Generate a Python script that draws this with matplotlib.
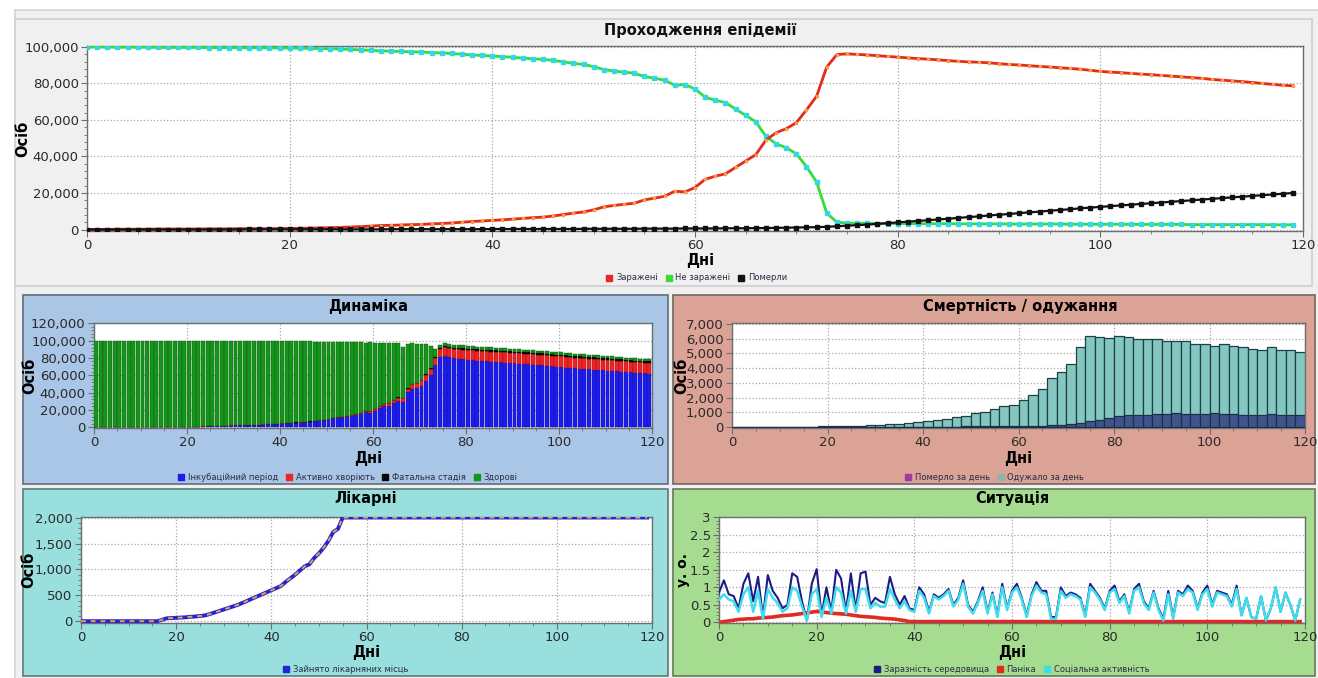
import matplotlib
matplotlib.use('Agg')
import numpy as np
import matplotlib.pyplot as plt
from matplotlib.patches import Rectangle
from matplotlib.lines import Line2D
from matplotlib.ticker import MultipleLocator, FuncFormatter

# ---- epidemic run, daily values (thousands of people) ----
days = np.arange(120)

infected_k = [
    0.1, 0.1, 0.1, 0.2, 0.2, 0.2, 0.2, 0.3, 0.3, 0.3,
    0.3, 0.3, 0.4, 0.4, 0.4, 0.5, 0.5, 0.5, 0.5, 0.6,
    0.6, 0.7, 0.8, 0.9, 1.0, 1.2, 1.4, 1.6, 1.9, 2.2,
    2.3, 2.5, 2.7, 2.8, 3.1, 3.3, 3.6, 4.0, 4.4, 4.7,
    5.0, 5.3, 5.7, 6.1, 6.5, 6.8, 7.4, 8.2, 9.0, 9.6,
    10.8, 12.4, 13.2, 13.8, 14.4, 16.2, 17.2, 18.2, 21.0, 20.6,
    23.0, 27.5, 29.2, 30.5, 34.0, 37.5, 41.0, 49.0, 53.0, 55.2,
    58.5, 65.5, 73.0, 89.0, 95.8, 96.2, 95.9, 95.6, 95.2, 94.8,
    94.4, 94.0, 93.6, 93.3, 92.9, 92.5, 92.1, 91.8, 91.6, 91.3,
    90.8, 90.4, 90.1, 89.7, 89.3, 89.0, 88.6, 88.2, 87.8, 87.2,
    86.6, 86.2, 85.9, 85.5, 85.1, 84.8, 84.4, 84.0, 83.6, 83.2,
    82.8, 82.2, 81.8, 81.4, 81.0, 80.5, 80.0, 79.5, 79.0, 78.7,
]

uninfected_k = [
    99.9, 99.9, 99.9, 99.8, 99.8, 99.8, 99.8, 99.7, 99.7, 99.7,
    99.7, 99.7, 99.6, 99.6, 99.6, 99.5, 99.5, 99.5, 99.5, 99.4,
    99.4, 99.3, 99.2, 99.1, 99.0, 98.8, 98.6, 98.4, 98.1, 97.8,
    97.7, 97.5, 97.3, 97.2, 96.9, 96.7, 96.4, 96.0, 95.6, 95.3,
    95.0, 94.7, 94.3, 93.9, 93.5, 93.2, 92.6, 91.8, 91.0, 90.4,
    89.2, 87.6, 86.8, 86.2, 85.6, 83.8, 82.8, 81.8, 79.0, 79.4,
    77.0, 72.5, 70.8, 69.5, 66.0, 62.5, 59.0, 51.0, 47.0, 44.8,
    41.5, 34.5, 26.0, 9.0, 4.0, 3.5, 3.4, 3.4, 3.3, 3.3,
    3.3, 3.3, 3.2, 3.2, 3.2, 3.2, 3.1, 3.1, 3.1, 3.1,
    3.1, 3.0, 3.0, 3.0, 3.0, 3.0, 3.0, 2.9, 2.9, 2.9,
    2.9, 2.9, 2.9, 2.8, 2.8, 2.8, 2.8, 2.8, 2.8, 2.7,
    2.7, 2.7, 2.7, 2.7, 2.7, 2.7, 2.7, 2.6, 2.6, 2.6,
]

dead_k = [
    0.0, 0.0, 0.0, 0.0, 0.0, 0.0, 0.0, 0.0, 0.0, 0.0,
    0.0, 0.0, 0.0, 0.0, 0.0, 0.0, 0.1, 0.1, 0.1, 0.1,
    0.1, 0.1, 0.1, 0.1, 0.1, 0.1, 0.1, 0.1, 0.1, 0.1,
    0.2, 0.2, 0.2, 0.2, 0.2, 0.2, 0.2, 0.2, 0.2, 0.2,
    0.3, 0.3, 0.3, 0.3, 0.3, 0.3, 0.3, 0.3, 0.3, 0.4,
    0.4, 0.4, 0.4, 0.4, 0.4, 0.5, 0.5, 0.5, 0.5, 0.6,
    0.6, 0.6, 0.6, 0.7, 0.7, 0.7, 0.8, 0.8, 0.9, 1.0,
    1.1, 1.2, 1.3, 1.5, 1.8, 2.1, 2.4, 2.7, 3.1, 3.5,
    3.9, 4.3, 4.7, 5.1, 5.5, 5.9, 6.4, 6.8, 7.2, 7.7,
    8.1, 8.5, 9.0, 9.4, 9.8, 10.3, 10.7, 11.1, 11.6, 12.0,
    12.4, 12.8, 13.2, 13.6, 14.0, 14.4, 14.8, 15.2, 15.6, 16.0,
    16.4, 16.8, 17.2, 17.6, 18.0, 18.4, 18.8, 19.2, 19.6, 20.0,
]

# stages of the infected population (thousands)
incubation_k = [
    0.1, 0.1, 0.1, 0.2, 0.2, 0.2, 0.2, 0.3, 0.3, 0.3,
    0.3, 0.3, 0.3, 0.3, 0.3, 0.4, 0.4, 0.4, 0.4, 0.5,
    0.5, 0.6, 0.7, 0.7, 0.8, 1.0, 1.1, 1.3, 1.5, 1.8,
    1.9, 2.0, 2.2, 2.3, 2.5, 2.7, 2.9, 3.2, 3.5, 3.8,
    4.0, 4.3, 4.6, 4.9, 5.2, 5.5, 6.0, 6.6, 7.3, 7.8,
    8.8, 10.1, 10.7, 11.2, 11.7, 13.2, 14.0, 14.8, 17.1, 16.8,
    18.8, 22.5, 23.9, 25.0, 27.9, 30.8, 29.5, 40.2, 44.5, 45.3,
    48.0, 53.7, 60.0, 72.2, 81.0, 82.5, 81.0, 80.0, 79.2, 78.5,
    77.8, 77.4, 77.0, 76.6, 76.2, 75.8, 75.4, 75.0, 74.6, 74.2,
    73.8, 73.4, 73.0, 72.6, 72.2, 71.8, 71.4, 71.0, 70.5, 70.0,
    69.5, 69.0, 68.6, 68.2, 67.8, 67.4, 67.0, 66.6, 66.2, 65.8,
    65.4, 65.0, 64.6, 64.2, 63.8, 63.4, 63.0, 62.6, 62.3, 62.0,
]

active_k = [
    0.0, 0.0, 0.0, 0.0, 0.0, 0.0, 0.0, 0.0, 0.0, 0.0,
    0.0, 0.0, 0.0, 0.0, 0.0, 0.0, 0.0, 0.0, 0.0, 0.0,
    0.0, 0.0, 0.0, 0.1, 0.1, 0.1, 0.1, 0.1, 0.1, 0.1,
    0.1, 0.2, 0.2, 0.2, 0.2, 0.2, 0.3, 0.3, 0.3, 0.3,
    0.3, 0.3, 0.4, 0.4, 0.4, 0.4, 0.5, 0.5, 0.6, 0.6,
    0.7, 0.8, 0.9, 1.0, 1.0, 1.2, 1.3, 1.4, 1.6, 1.7,
    1.9, 2.1, 2.4, 2.7, 3.0, 3.4, 3.8, 4.3, 4.9, 5.5,
    6.1, 6.8, 7.5, 8.2, 9.0, 9.8, 10.4, 10.8, 11.1, 11.3,
    11.4, 11.5, 11.6, 11.6, 11.7, 11.7, 11.8, 11.8, 11.9, 11.9,
    12.0, 12.0, 12.0, 12.1, 12.1, 12.1, 12.2, 12.2, 12.2, 12.2,
    12.3, 12.3, 12.3, 12.3, 12.3, 12.3, 12.3, 12.3, 12.3, 12.3,
    12.3, 12.3, 12.3, 12.3, 12.2, 12.2, 12.2, 12.2, 12.2, 12.2,
]

fatal_k = [
    0.0, 0.0, 0.0, 0.0, 0.0, 0.0, 0.0, 0.0, 0.0, 0.0,
    0.0, 0.0, 0.0, 0.0, 0.0, 0.0, 0.0, 0.0, 0.0, 0.0,
    0.0, 0.0, 0.0, 0.0, 0.0, 0.0, 0.0, 0.0, 0.0, 0.0,
    0.1, 0.1, 0.1, 0.1, 0.1, 0.1, 0.1, 0.1, 0.1, 0.1,
    0.1, 0.1, 0.1, 0.1, 0.1, 0.1, 0.1, 0.1, 0.1, 0.1,
    0.1, 0.1, 0.1, 0.1, 0.1, 0.1, 0.1, 0.1, 0.1, 0.1,
    0.2, 0.2, 0.3, 0.3, 0.3, 0.4, 0.4, 0.5, 0.5, 0.6,
    0.6, 0.7, 0.8, 0.9, 1.0, 1.1, 1.2, 1.3, 1.4, 1.5,
    1.5, 1.5, 1.5, 1.5, 1.6, 1.6, 1.6, 1.6, 1.6, 1.6,
    1.6, 1.6, 1.7, 1.7, 1.7, 1.7, 1.7, 1.7, 1.7, 1.7,
    1.7, 1.7, 1.7, 1.7, 1.8, 1.8, 1.8, 1.8, 1.8, 1.8,
    1.8, 1.8, 1.8, 1.8, 1.8, 1.8, 1.8, 1.8, 1.8, 1.8,
]

healthy_k = uninfected_k

# deaths / recoveries per two-day bin
bin_days = np.arange(0, 120, 2)
recovered_per_day = [
    0, 0, 0, 0, 0, 0, 0, 0, 0,
    0, 0, 0, 0, 0,
    130, 170, 200, 210, 280, 350, 420, 480, 560, 690,
    760, 950, 1030, 1250, 1400, 1500, 1850, 2200, 2550, 3300,
    3700, 4250, 5400, 6150, 6100, 6050, 6150, 6100, 6000, 6000,
    6000, 5800, 5800, 5800, 5600, 5600, 5500, 5650, 5500, 5450,
    5300, 5250, 5400, 5200, 5200, 5100,
]
died_per_day = [
    0, 0, 0, 0, 0, 0, 0, 0, 0,
    50, 50, 50, 50, 50,
    20, 20, 25, 25, 30, 30, 35, 35, 40, 40,
    45, 45, 50, 50, 55, 60, 70, 80, 100, 120,
    150, 200, 280, 420, 500, 620, 720, 830, 840, 850,
    880, 900, 950, 880, 900, 900, 950, 900, 870, 850,
    850, 850, 860, 850, 850, 820,
]

# occupied hospital beds
hospital_beds = [
    5, 5, 5, 5, 5, 5, 5, 5, 5, 5,
    5, 5, 5, 5, 5, 5, 5, 30, 60, 65,
    70, 75, 80, 90, 95, 105, 115, 140, 170, 200,
    230, 260, 290, 320, 360, 400, 440, 480, 520, 560,
    600, 640, 680, 760, 830, 900, 980, 1060, 1100, 1220,
    1310, 1420, 1550, 1720, 1780, 2000, 2000, 2000, 2000, 2000,
    2000, 2000, 2000, 2000, 2000, 2000, 2000, 2000, 2000, 2000,
    2000, 2000, 2000, 2000, 2000, 2000, 2000, 2000, 2000, 2000,
    2000, 2000, 2000, 2000, 2000, 2000, 2000, 2000, 2000, 2000,
    2000, 2000, 2000, 2000, 2000, 2000, 2000, 2000, 2000, 2000,
    2000, 2000, 2000, 2000, 2000, 2000, 2000, 2000, 2000, 2000,
    2000, 2000, 2000, 2000, 2000, 2000, 2000, 2000, 2000, 2000,
]

# situation indicators (conventional units)
contagion = [
    0.85, 1.20, 0.80, 0.75, 0.40, 1.10, 1.40, 0.60, 1.30, 0.15,
    1.35, 0.90, 0.70, 0.40, 0.50, 1.40, 1.30, 0.60, 0.05, 1.10,
    1.52, 0.20, 1.00, 0.30, 1.50, 1.25, 0.30, 1.40, 0.35, 1.40,
    1.45, 0.50, 0.70, 0.60, 0.55, 1.30, 0.80, 0.50, 0.75, 0.40,
    0.35, 1.00, 0.80, 0.30, 0.80, 0.70, 0.80, 0.95, 0.50, 0.70,
    1.20, 0.50, 0.30, 0.60, 1.00, 0.30, 0.85, 0.20, 1.10, 0.40,
    0.90, 1.10, 0.70, 0.20, 0.80, 1.15, 0.90, 0.90, 0.15, 0.15,
    1.00, 0.75, 0.85, 0.80, 0.70, 0.20, 1.10, 0.90, 0.70, 0.40,
    0.90, 1.05, 0.60, 0.80, 0.30, 0.95, 1.10, 0.60, 0.40, 0.90,
    0.40, 0.10, 0.90, 0.15, 0.90, 0.80, 1.05, 0.90, 0.40, 0.85,
    1.05, 0.50, 0.90, 0.85, 0.80, 0.50, 1.05, 0.20, 0.70, 0.15,
    0.10, 0.75, 0.05, 0.40, 1.00, 0.30, 0.85, 0.50, 0.05, 0.65,
]
panic = [
    0.00, 0.02, 0.04, 0.06, 0.08, 0.09, 0.10, 0.10, 0.12, 0.13,
    0.14, 0.15, 0.17, 0.19, 0.20, 0.21, 0.23, 0.25, 0.27, 0.29,
    0.31, 0.30, 0.28, 0.26, 0.25, 0.24, 0.23, 0.21, 0.19, 0.17,
    0.16, 0.15, 0.14, 0.12, 0.11, 0.10, 0.09, 0.07, 0.05, 0.02,
    0.02, 0.02, 0.02, 0.02, 0.02, 0.02, 0.02, 0.02, 0.02, 0.02,
    0.02, 0.02, 0.02, 0.02, 0.02, 0.02, 0.02, 0.02, 0.02, 0.02,
    0.02, 0.02, 0.02, 0.02, 0.02, 0.02, 0.02, 0.02, 0.02, 0.02,
    0.02, 0.02, 0.02, 0.02, 0.02, 0.02, 0.02, 0.02, 0.02, 0.02,
    0.02, 0.02, 0.02, 0.02, 0.02, 0.02, 0.02, 0.02, 0.02, 0.02,
    0.02, 0.02, 0.02, 0.02, 0.02, 0.02, 0.02, 0.02, 0.02, 0.02,
    0.02, 0.02, 0.02, 0.02, 0.02, 0.02, 0.02, 0.02, 0.02, 0.02,
    0.02, 0.02, 0.02, 0.02, 0.02, 0.02, 0.02, 0.02, 0.02, 0.02,
]
social_activity = [
    0.65, 0.80, 0.65, 0.60, 0.30, 0.80, 1.00, 0.30, 0.90, 0.10,
    0.95, 0.70, 0.55, 0.30, 0.40, 1.00, 0.90, 0.45, 0.05, 0.80,
    0.95, 0.15, 0.70, 0.25, 1.00, 0.85, 0.25, 0.90, 0.30, 0.95,
    0.95, 0.40, 0.55, 0.45, 0.45, 0.95, 0.65, 0.40, 0.60, 0.35,
    0.30, 0.90, 0.70, 0.25, 0.75, 0.65, 0.75, 0.90, 0.45, 0.65,
    1.10, 0.45, 0.25, 0.55, 0.90, 0.25, 0.80, 0.15, 1.00, 0.35,
    0.85, 1.00, 0.65, 0.15, 0.75, 1.05, 0.85, 0.80, 0.10, 0.10,
    0.90, 0.70, 0.80, 0.75, 0.65, 0.15, 1.00, 0.85, 0.65, 0.35,
    0.85, 0.95, 0.55, 0.75, 0.25, 0.90, 1.00, 0.55, 0.35, 0.85,
    0.35, 0.05, 0.80, 0.10, 0.85, 0.75, 0.95, 0.85, 0.35, 0.80,
    0.95, 0.45, 0.85, 0.80, 0.75, 0.45, 0.95, 0.20, 0.70, 0.15,
    0.10, 0.75, 0.05, 0.40, 1.00, 0.30, 0.85, 0.50, 0.05, 0.65,
]

# ---- layout helpers (pixel boxes on a 1318x678 canvas) ----
W, H = 1318, 678
TICK_FONT = ['Liberation Sans Narrow', 'DejaVu Sans']
BOLD_FONT = ['DejaVu Sans']


def box(x0, y0, x1, y1):
    return [x0 / W, 1 - y1 / H, (x1 - x0) / W, (y1 - y0) / H]


def panel(fig, x0, y0, x1, y1, face, edge):
    fig.patches.append(Rectangle((x0 / W, 1 - y1 / H), (x1 - x0) / W, (y1 - y0) / H,
                                 transform=fig.transFigure, facecolor=face,
                                 edgecolor=edge, linewidth=1.2, zorder=-10))


def fig_text(fig, x, y, s, **kw):
    fig.text(x / W, 1 - y / H, s, ha='center', va='center', **kw)


def style_axes(ax, xmaj, xmin, ymaj, ymin, yfmt):
    ax.set_facecolor('white')
    ax.xaxis.set_major_locator(MultipleLocator(xmaj))
    ax.xaxis.set_minor_locator(MultipleLocator(xmin))
    ax.yaxis.set_major_locator(MultipleLocator(ymaj))
    if ymin:
        ax.yaxis.set_minor_locator(MultipleLocator(ymin))
    ax.yaxis.set_major_formatter(FuncFormatter(yfmt))
    ax.grid(True, which='major', color='#a8a8a8', linestyle=':', linewidth=0.9)
    ax.set_axisbelow(True)
    for s in ax.spines.values():
        s.set_color('#6e6e6e')
        s.set_linewidth(1.0)
    ax.tick_params(which='major', length=4, width=0.8, color='#6e6e6e',
                   labelsize=9.5, labelcolor='#2a2a2a', pad=2)
    ax.tick_params(which='minor', length=2, width=0.6, color='#6e6e6e')
    for lab in ax.get_xticklabels() + ax.get_yticklabels():
        lab.set_family(TICK_FONT)


def add_legend(fig, x, y, items, ncol=None):
    handles = [Line2D([], [], marker='s', linestyle='', color=c, markersize=4)
               for _, c in items]
    leg = fig.legend(handles, [t for t, _ in items], loc='center',
                     bbox_to_anchor=(x / W, 1 - y / H), ncol=ncol or len(items),
                     frameon=False, fontsize=6, handlelength=0.6,
                     handletextpad=0.5, columnspacing=1.0, borderpad=0)
    for t in leg.get_texts():
        t.set_color('#2c2c44')
    return leg


thousands = lambda v, p: f'{int(round(v)):,}'
plain = lambda v, p: f'{v:g}'

fig = plt.figure(figsize=(W / 100, H / 100), dpi=100)
fig.patch.set_facecolor('white')

# window background and panels
panel(fig, 15, 10, 1330, 690, '#f0f0f0', '#d4d4d4')
panel(fig, 15, 19, 1312, 286, '#f0f0f0', '#cfcfcf')
panel(fig, 23, 295, 668, 484, '#a9c6e6', '#5f6f7a')
panel(fig, 673, 295, 1315, 484, '#dba296', '#6f6660')
panel(fig, 23, 489, 668, 676, '#99dfde', '#5f7a78')
panel(fig, 673, 489, 1315, 676, '#a6dc90', '#637a5c')

# ---- epidemic progression ----
ax = fig.add_axes(box(87, 46, 1303, 231))
style_axes(ax, 20, 5, 20000, 4000, thousands)
ax.set_xlim(0, 120)
ax.set_ylim(-800, 100500)
inf = np.array(infected_k) * 1000
uninf = np.array(uninfected_k) * 1000
dead = np.array(dead_k) * 1000
ax.plot(days, uninf, color='#33dd33', linewidth=2, marker='s', markersize=2.2,
        markerfacecolor='#33d8e8', markeredgecolor='#33d8e8', zorder=3)
ax.plot(days, inf, color='#e42a1e', linewidth=2, marker='s', markersize=1.8,
        markerfacecolor='#f2a040', markeredgecolor='#f2a040', zorder=4)
ax.plot(days, dead, color='#111111', linewidth=1.6, marker='s', markersize=2.2,
        markerfacecolor='#111111', markeredgecolor='#111111', zorder=5)
fig_text(fig, 700, 30, 'Проходження епідемії', fontsize=10.5, fontweight='bold',
         family=BOLD_FONT, color='#111111')
fig_text(fig, 700, 260, 'Дні', fontsize=10.5, fontweight='bold', family=BOLD_FONT)
fig_text(fig, 23, 139, 'Осіб', fontsize=10.5, fontweight='bold', family=BOLD_FONT,
         rotation=90)
add_legend(fig, 697, 278, [('Заражені', '#e42a1e'), ('Не заражені', '#33dd33'),
                           ('Померли', '#111111')])

# ---- dynamics (stacked stages) ----
ax = fig.add_axes(box(94, 323, 652, 428))
style_axes(ax, 20, 5, 20000, 4000, thousands)
ax.set_xlim(0, 120)
ax.set_ylim(-1000, 120500)
stages = [(incubation_k, '#1c1ced', '#1010a0'),
          (active_k, '#ee2424', '#a01010'),
          (fatal_k, '#050505', '#000000'),
          (healthy_k, '#15961a', '#0b5a0e')]
base = np.zeros(len(days))
for vals, face, edge in stages:
    v = np.array(vals) * 1000
    ax.bar(days, v, width=0.85, bottom=base, align='edge', color=face,
           edgecolor=edge, linewidth=0.3, zorder=3)
    base = base + v
fig_text(fig, 368, 307, 'Динаміка', fontsize=10.5, fontweight='bold', family=BOLD_FONT)
fig_text(fig, 368, 458, 'Дні', fontsize=10.5, fontweight='bold', family=BOLD_FONT)
fig_text(fig, 30, 376, 'Осіб', fontsize=10.5, fontweight='bold', family=BOLD_FONT,
         rotation=90)
add_legend(fig, 348, 477, [('Інкубаційний період', '#1c1ced'),
                           ('Активно хворіють', '#ee2424'),
                           ('Фатальна стадія', '#050505'),
                           ('Здорові', '#15961a')])

# ---- mortality / recovery ----
ax = fig.add_axes(box(732, 323, 1305, 428))
style_axes(ax, 20, 5, 1000, None, thousands)
ax.set_xlim(0, 120)
ax.set_ylim(-60, 7050)
ax.bar(bin_days, recovered_per_day, width=2, align='edge', color='#84c7c0',
       edgecolor='#1d3f48', linewidth=0.9, zorder=3)
ax.bar(bin_days, died_per_day, width=2, align='edge', color='#3f548c',
       edgecolor='#1d2f48', linewidth=0.9, zorder=4)
fig_text(fig, 1020, 307, 'Смертність / одужання', fontsize=10.5, fontweight='bold',
         family=BOLD_FONT)
fig_text(fig, 1018, 458, 'Дні', fontsize=10.5, fontweight='bold', family=BOLD_FONT)
fig_text(fig, 682, 376, 'Осіб', fontsize=10.5, fontweight='bold', family=BOLD_FONT,
         rotation=90)
add_legend(fig, 995, 477, [('Померло за день', '#a03aa0'),
                           ('Одужало за день', '#8fb5aa')])

# ---- hospitals ----
ax = fig.add_axes(box(81, 517, 652, 623))
style_axes(ax, 20, 5, 500, 100, thousands)
ax.set_xlim(0, 120)
ax.set_ylim(-30, 2010)
ax.plot(days, hospital_beds, color='#2424d8', linewidth=2.8, zorder=3)
ax.plot(days, hospital_beds, color='#eaa24a', linewidth=1.4, linestyle=(0, (2.5, 2.5)),
        zorder=4)
fig_text(fig, 366, 499, 'Лікарні', fontsize=10.5, fontweight='bold', family=BOLD_FONT)
fig_text(fig, 366, 652, 'Дні', fontsize=10.5, fontweight='bold', family=BOLD_FONT)
fig_text(fig, 29, 570, 'Осіб', fontsize=10.5, fontweight='bold', family=BOLD_FONT,
         rotation=90)
add_legend(fig, 346, 669, [('Зайнято лікарняних місць', '#2424d8')])

# ---- situation ----
ax = fig.add_axes(box(719, 517, 1305, 623))
style_axes(ax, 20, 5, 0.5, 0.1, plain)
ax.set_xlim(0, 120)
ax.set_ylim(-0.02, 3.01)
ax.plot(days, contagion, color='#1c1c86', linewidth=1.5, zorder=3)
ax.plot(days, panic, color='#e22a20', linewidth=2.6, zorder=4)
ax.plot(days, social_activity, color='#3fdceb', linewidth=1.8, zorder=5)
fig_text(fig, 1012, 499, 'Ситуація', fontsize=10.5, fontweight='bold', family=BOLD_FONT)
fig_text(fig, 1012, 652, 'Дні', fontsize=10.5, fontweight='bold', family=BOLD_FONT)
fig_text(fig, 683, 570, 'у. о.', fontsize=10, fontweight='bold', family=BOLD_FONT,
         rotation=90)
add_legend(fig, 1012, 669, [('Заразність середовища', '#1c1c86'),
                            ('Паніка', '#e22a20'),
                            ('Соціальна активність', '#3fdceb')])

fig.savefig('out.png', dpi=100, facecolor=fig.get_facecolor())
